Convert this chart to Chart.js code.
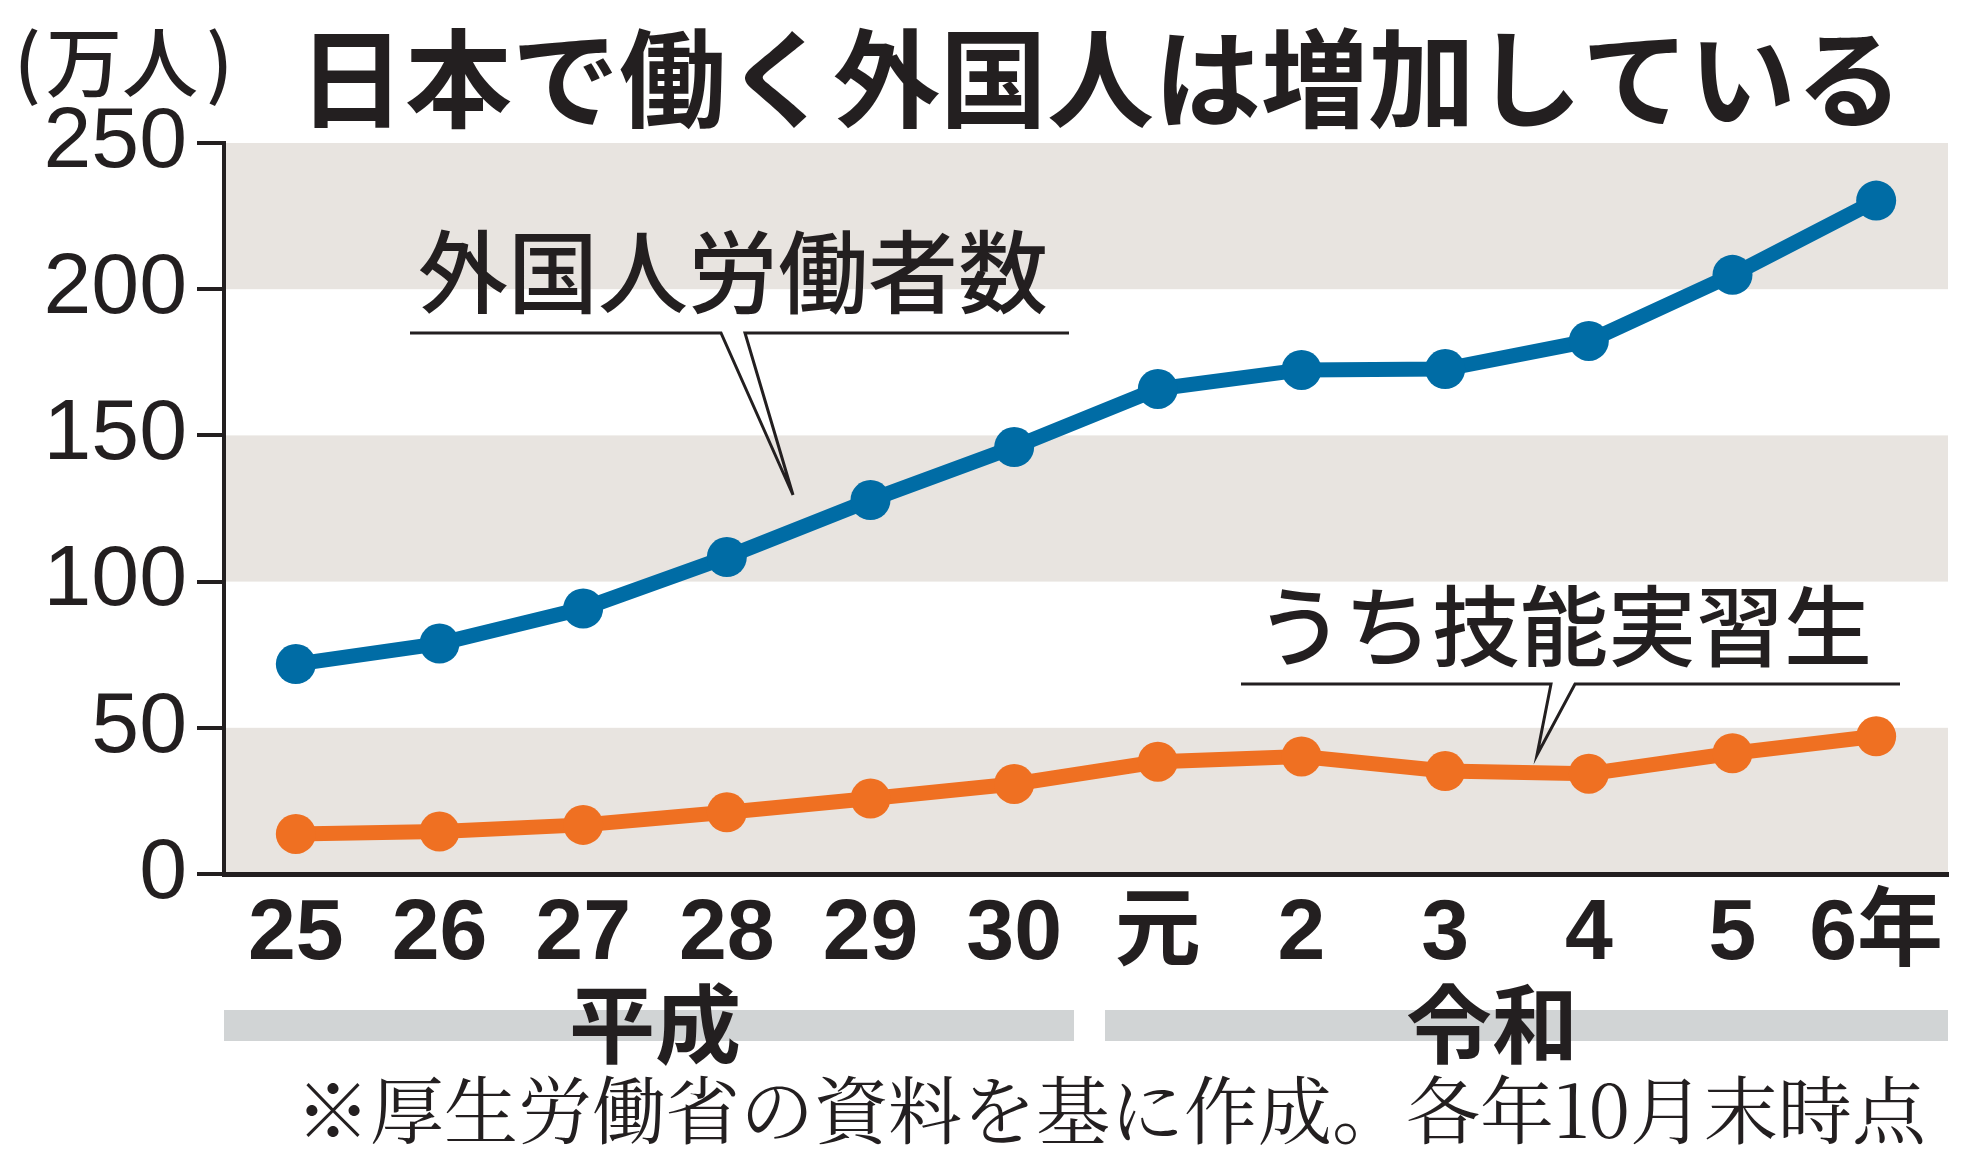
<!DOCTYPE html>
<html>
<head>
<meta charset="utf-8">
<script src="https://cdn.jsdelivr.net/npm/chart.js@4.4.1/dist/chart.umd.min.js"></script>
<style>
  html, body { margin: 0; padding: 0; background: #fff; }
  #wrap { width: 1977px; height: 1158px; }
</style>
</head>
<body>
<div id="wrap"><canvas id="chart" width="1977" height="1158"></canvas></div>
<script>
// データ（万人）
const years = ['25', '26', '27', '28', '29', '30', '元', '2', '3', '4', '5', '6年'];
const workers = [71.8, 78.8, 90.8, 108.4, 127.9, 146.0, 165.9, 172.4, 172.7, 182.3, 204.9, 230.3];
const trainees = [13.7, 14.5, 16.8, 21.1, 25.8, 30.8, 38.4, 40.2, 35.2, 34.3, 41.3, 47.1];
const yTicks = [0, 50, 100, 150, 200, 250];
const eras = ['平成', '令和'];

const INK = '#231f20';
const BLUE = '#006ca5';
const ORANGE = '#ef7022';
const BAND = '#e8e4e0';

// 背景の縞（0-50, 100-150, 200-250）
const bandsPlugin = {
  id: 'bands',
  beforeDraw(chart) {
    const { ctx, chartArea, scales } = chart;
    ctx.save();
    ctx.fillStyle = BAND;
    for (let i = 0; i < yTicks.length - 1; i += 2) {
      const y1 = scales.y.getPixelForValue(yTicks[i + 1]);
      const y0 = scales.y.getPixelForValue(yTicks[i]);
      ctx.fillRect(chartArea.left, y1, chartArea.right - chartArea.left, y0 - y1);
    }
    ctx.restore();
  }
};

// タイトル、注釈、元号、出典
const textPlugin = {
  id: 'texts',
  afterDraw(chart) {
    const ctx = chart.ctx;
    ctx.save();
    ctx.fillStyle = INK;
    ctx.strokeStyle = INK;
    ctx.textBaseline = 'middle';
    ctx.textAlign = 'left';

    // 単位
    ctx.font = '500 76px "Noto Sans CJK JP"';
    ctx.fillText('(', 14, 62);
    ctx.fillText('万人', 46, 62);
    ctx.fillText(')', 206, 62);

    ctx.font = 'bold 107px "Noto Sans CJK JP"';
    ctx.fillText('日本で働く外国人は増加している', 298, 78);

    // 吹き出し1
    ctx.font = '500 90px "Noto Sans CJK JP"';
    ctx.fillText('外国人労働者数', 418, 272);
    ctx.lineWidth = 3;
    ctx.beginPath();
    ctx.moveTo(410, 333); ctx.lineTo(721, 333); ctx.lineTo(793, 495);
    ctx.lineTo(745, 333); ctx.lineTo(1069, 333);
    ctx.stroke();

    // 吹き出し2
    ctx.font = '500 88px "Noto Sans CJK JP"';
    ctx.fillText('うち技能実習生', 1256, 626);
    ctx.beginPath();
    ctx.moveTo(1241, 684); ctx.lineTo(1551, 684); ctx.lineTo(1537, 755);
    ctx.lineTo(1575, 684); ctx.lineTo(1900, 684);
    ctx.stroke();

    // 元号バー
    ctx.fillStyle = '#d1d4d5';
    ctx.fillRect(224, 1010, 850, 31);
    ctx.fillRect(1105, 1010, 843, 31);
    ctx.fillStyle = INK;
    ctx.textAlign = 'center';
    ctx.font = 'bold 86px "Noto Sans CJK JP"';
    ctx.fillText(eras[0], 655, 1024);
    ctx.fillText(eras[1], 1492, 1024);

    // 出典
    ctx.textAlign = 'left';
    ctx.font = '400 74px "Noto Serif CJK JP", "Noto Sans CJK JP"';
    ctx.fillText('※厚生労働省の資料を基に作成。各年10月末時点', 296, 1110);
    ctx.restore();
  }
};

new Chart(document.getElementById('chart'), {
  type: 'line',
  data: {
    labels: years,
    datasets: [
      {
        label: '外国人労働者数',
        data: workers,
        borderColor: BLUE,
        backgroundColor: BLUE,
        borderWidth: 15,
        pointRadius: 20,
        pointHoverRadius: 20,
        pointBorderWidth: 0,
        tension: 0,
        clip: false
      },
      {
        label: 'うち技能実習生',
        data: trainees,
        borderColor: ORANGE,
        backgroundColor: ORANGE,
        borderWidth: 15,
        pointRadius: 20,
        pointHoverRadius: 20,
        pointBorderWidth: 0,
        tension: 0,
        clip: false
      }
    ]
  },
  options: {
    responsive: false,
    animation: false,
    devicePixelRatio: 1,
    layout: { padding: { top: 143, right: 29, bottom: 164, left: 0 } },
    plugins: {
      legend: { display: false },
      tooltip: { enabled: false }
    },
    scales: {
      x: {
        offset: true,
        grid: { display: true, drawOnChartArea: false, drawTicks: false },
        border: { display: true, color: INK, width: 5 },
        ticks: {
          color: INK,
          padding: 10,
          maxRotation: 0,
          autoSkip: false,
          font: { family: '"Liberation Sans", "Noto Sans CJK JP"', size: 86, weight: 'bold' }
        },
        afterFit(scale) { scale.height = 120; }
      },
      y: {
        min: 0,
        max: 250,
        afterBuildTicks(scale) { scale.ticks = yTicks.map(v => ({ value: v })); },
        grid: { drawOnChartArea: false, drawTicks: true, tickLength: 27, color: INK, lineWidth: 4 },
        border: { display: true, color: INK, width: 4 },
        ticks: {
          color: INK,
          padding: 10,
          font: { family: '"Liberation Sans", Arial', size: 86, weight: 'normal' }
        },
        afterFit(scale) { scale.width = 224; }
      }
    }
  },
  plugins: [bandsPlugin, textPlugin]
});
</script>
</body>
</html>
